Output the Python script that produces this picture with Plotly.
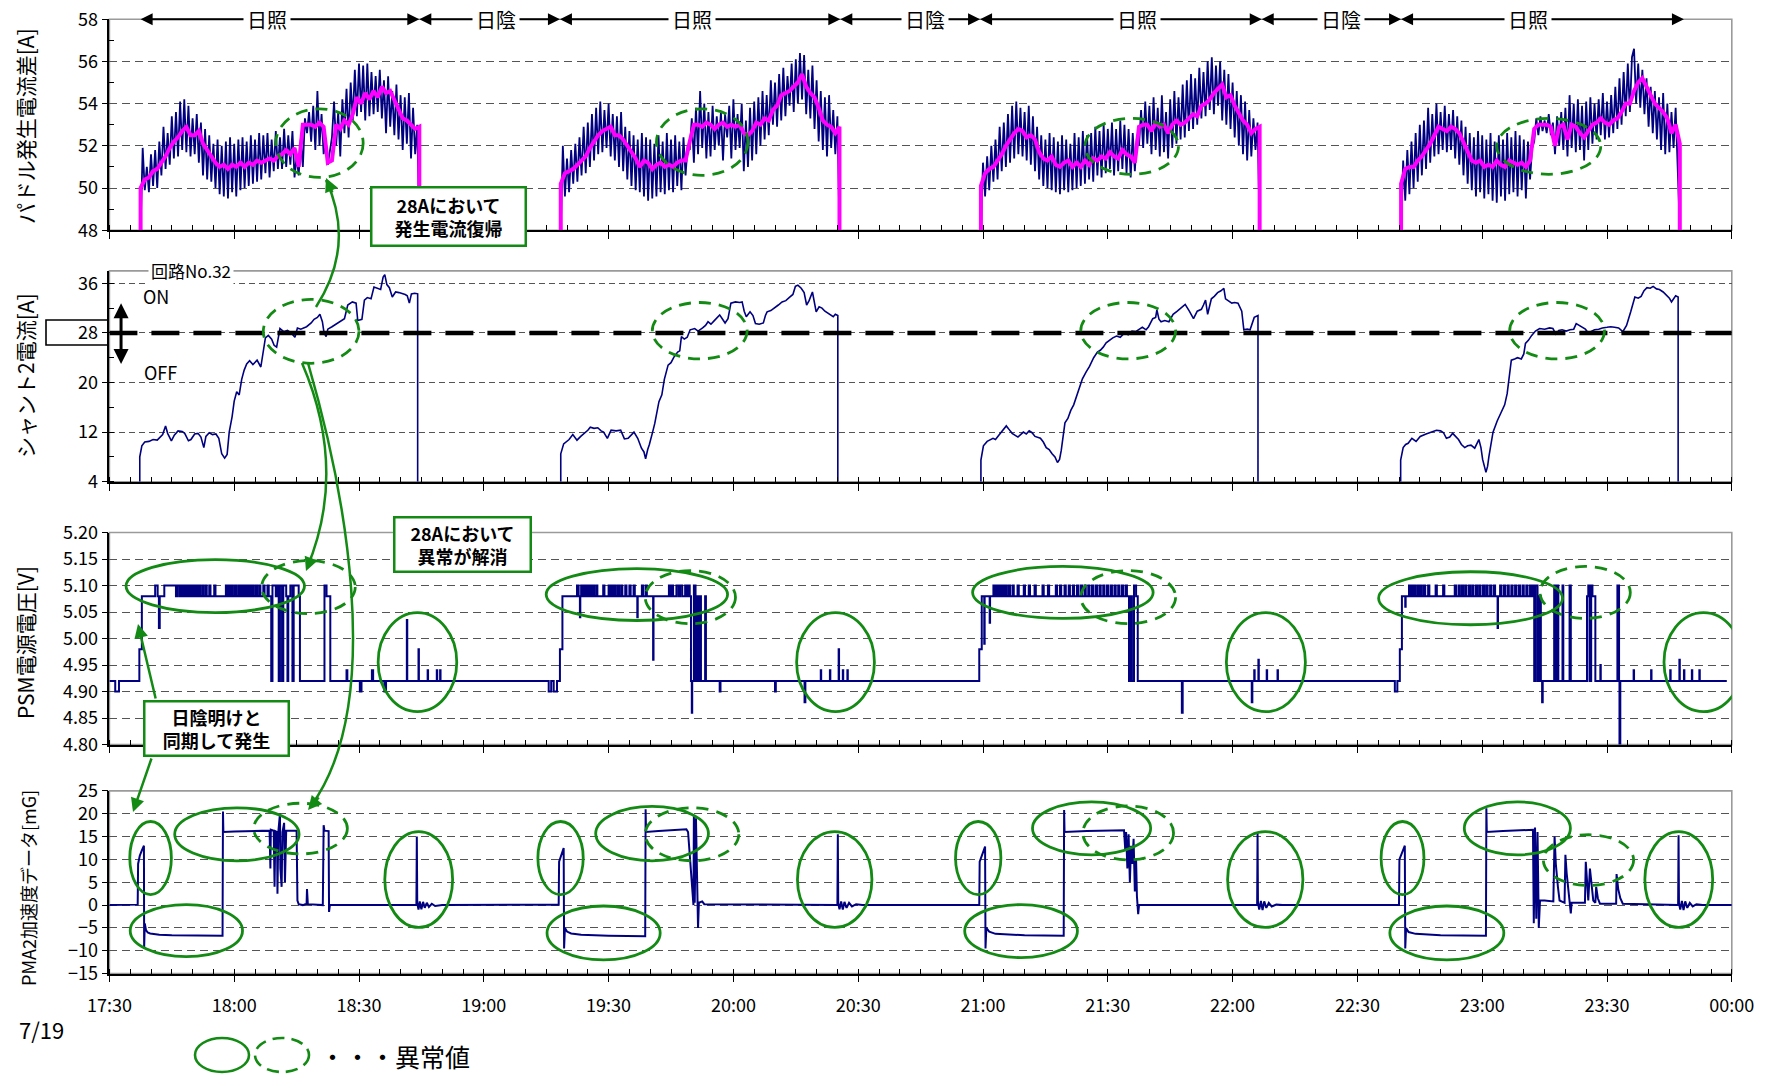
import plotly.graph_objects as go

W, H = 1769, 1074
FONT = "Noto Sans CJK JP"
NAVY = "#000080"
MAGENTA = "#ff00ff"
GREEN = "#138a13"

# ---------------- data ----------------
TICK_MIN = [0, 30, 60, 90, 120, 150, 180, 210, 240, 270, 300, 330, 360, 390]
TICK_LABELS = ["17:30", "18:00", "18:30", "19:00", "19:30", "20:00", "20:30",
               "21:00", "21:30", "22:00", "22:30", "23:00", "23:30", "00:00"]
DATE_LABEL = "7/19"

# paddle current difference: raw (0.5 min sampling) and averaged (1 min sampling)
PADDLE_T0 = [7.5, 108.5, 209.5, 310.5]
RAW_STEP = 0.5
AVG_STEP = 1.0

PADDLE_RAW_1 = [48.0, 51.9, 49.9, 51.0, 49.8, 51.6, 50.1, 51.8, 50.0, 52.2, 50.6, 52.9, 50.9, 52.6, 51.1, 53.4,
                51.4, 53.6, 51.5, 54.1, 51.8, 54.2, 51.7, 53.9, 51.5, 53.3, 51.6, 53.5, 51.2, 53.1, 50.6, 52.8,
                50.4, 52.5, 50.3, 52.1, 50.0, 52.3, 49.7, 52.0, 49.6, 52.2, 49.5, 52.4, 49.8, 52.1, 49.6, 52.3,
                49.9, 52.4, 50.0, 52.2, 50.1, 52.5, 50.2, 52.3, 50.3, 52.6, 50.4, 52.5, 50.7, 52.6, 50.5, 52.3,
                50.8, 52.7, 50.9, 52.4, 50.9, 52.8, 51.0, 52.5, 51.1, 52.7, 50.5, 51.5, 50.6, 52.3, 51.0, 53.3,
                52.6, 53.6, 52.2, 53.9, 51.8, 54.6, 52.0, 53.5, 51.6, 52.3, 51.1, 51.8, 52.4, 54.1, 52.0, 53.6,
                51.5, 54.2, 52.6, 54.7, 52.4, 55.0, 53.2, 55.6, 53.4, 55.9, 53.6, 55.8, 53.2, 55.9, 53.4, 55.5,
                53.5, 55.3, 53.6, 55.6, 53.3, 55.1, 52.6, 55.3, 52.9, 54.6, 52.5, 54.9, 52.3, 54.4, 51.8, 54.3,
                52.1, 54.5, 51.4, 53.8, 51.6, 53.0, 48.0]
PADDLE_RAW_2 = [48.0, 52.0, 49.6, 51.4, 49.8, 51.8, 50.2, 52.1, 50.3, 52.4, 50.6, 52.9, 50.7, 53.1, 51.0, 53.5,
                51.3, 53.8, 51.6, 54.1, 51.7, 53.7, 51.9, 54.0, 51.5, 53.5, 51.3, 53.4, 51.0, 53.6, 50.8, 52.9,
                50.4, 52.7, 50.1, 52.5, 49.9, 52.3, 49.8, 52.6, 49.6, 52.4, 49.4, 52.3, 49.5, 52.1, 49.6, 52.5,
                49.8, 52.2, 49.7, 52.6, 49.9, 52.3, 49.8, 52.5, 50.1, 52.2, 49.9, 52.4, 50.6, 52.0, 51.8, 53.3,
                51.2, 53.8, 51.6, 54.6, 51.9, 54.0, 51.4, 53.6, 51.5, 53.9, 51.8, 53.4, 52.0, 53.6, 51.3, 53.5,
                52.4, 53.9, 51.4, 54.2, 51.8, 53.5, 51.9, 54.0, 50.8, 53.2, 51.0, 53.8, 51.3, 54.1, 51.6, 54.3,
                52.0, 54.6, 52.3, 54.4, 52.5, 55.1, 53.0, 55.0, 52.9, 55.4, 53.2, 55.7, 53.4, 55.3, 53.9, 55.9,
                53.6, 56.1, 54.0, 56.4, 54.2, 56.3, 53.5, 55.6, 53.3, 55.8, 52.8, 55.1, 52.2, 54.6, 51.8, 54.3,
                51.5, 54.4, 51.9, 53.7, 51.6, 53.4, 48.0]
PADDLE_RAW_3 = [48.0, 51.2, 49.6, 51.5, 49.9, 52.0, 50.3, 52.3, 50.4, 52.9, 50.8, 53.1, 51.0, 53.5, 51.2, 53.9,
                51.4, 54.1, 51.6, 53.8, 51.5, 53.6, 51.3, 53.9, 51.1, 53.4, 50.8, 52.9, 50.4, 52.5, 50.1, 52.3,
                50.0, 52.6, 49.9, 52.4, 49.8, 52.2, 49.7, 52.5, 49.9, 52.3, 49.8, 52.1, 49.9, 52.6, 50.0, 52.4,
                50.1, 52.7, 50.2, 52.5, 50.4, 52.6, 50.3, 52.9, 50.6, 52.7, 50.5, 53.0, 50.7, 52.8, 50.9, 53.1,
                50.6, 52.8, 50.8, 53.2, 50.9, 53.0, 50.7, 52.8, 50.5, 52.6, 50.8, 52.4, 52.0, 53.7, 51.9, 54.1,
                52.1, 53.9, 51.6, 54.3, 51.8, 53.8, 51.5, 54.4, 51.7, 53.6, 51.4, 54.2, 51.9, 54.6, 52.1, 54.3,
                52.3, 54.9, 52.4, 55.1, 52.7, 55.4, 52.8, 55.2, 53.0, 55.7, 53.3, 55.5, 53.4, 56.0, 53.7, 56.2,
                53.5, 55.8, 53.9, 56.0, 53.2, 55.6, 53.0, 55.4, 52.8, 55.0, 52.4, 54.6, 52.0, 54.4, 51.6, 54.1,
                51.3, 53.7, 51.5, 53.3, 51.8, 53.1, 48.0]
PADDLE_RAW_4 = [48.0, 51.3, 49.4, 51.8, 49.7, 52.2, 50.0, 52.6, 50.3, 53.0, 50.6, 53.2, 50.9, 53.8, 51.2, 53.5,
                51.5, 54.0, 51.6, 53.6, 51.8, 53.9, 51.7, 53.5, 51.8, 53.7, 51.4, 53.4, 51.1, 53.2, 50.6, 52.9,
                50.2, 52.6, 49.9, 52.4, 49.6, 52.7, 49.8, 52.5, 49.5, 52.3, 49.7, 52.6, 49.4, 52.2, 49.3, 52.5,
                49.6, 52.3, 49.4, 52.6, 49.7, 52.4, 49.8, 52.7, 49.6, 52.5, 49.9, 52.3, 49.5, 52.2, 50.4, 51.9,
                52.2, 53.3, 52.5, 53.4, 52.7, 53.2, 52.6, 53.5, 52.5, 53.1, 51.6, 53.4, 52.0, 53.6, 51.8, 53.8,
                51.5, 54.4, 51.9, 54.0, 51.7, 54.2, 51.8, 53.9, 51.3, 54.1, 51.8, 54.3, 52.1, 54.0, 52.3, 54.2,
                52.5, 54.5, 52.3, 54.1, 52.4, 54.4, 52.6, 54.8, 52.8, 55.2, 53.0, 55.5, 53.4, 55.9, 53.6, 56.2,
                56.6, 54.0, 55.9, 53.8, 55.6, 53.5, 55.2, 52.9, 54.8, 52.6, 54.6, 52.3, 54.3, 51.8, 54.5, 51.6,
                54.0, 51.7, 53.6, 51.9, 53.8, 51.2, 48.0]

PADDLE_AVG_1 = [48, 50.0, 50.4, 50.5, 50.8, 50.9, 51.2, 51.5, 51.9, 52.2, 52.4, 52.7, 52.9, 52.5, 52.5, 52.7, 52.1,
                51.8, 51.5, 51.2, 51.0, 51.1, 50.9, 51.1, 51.0, 51.2, 51.0, 51.2, 51.1, 51.3, 51.2, 51.3, 51.4,
                51.3, 51.5, 51.6, 51.8, 51.6, 51.9, 51.0, 53.0, 53.0, 53.0, 52.9, 53.1, 52.9, 51.2, 51.3, 53.0,
                52.8, 53.2, 53.0, 53.5, 54.3, 54.0, 54.5, 54.2, 54.6, 54.3, 54.8, 54.5, 54.6, 54.2, 53.8, 53.3,
                53.2, 53.0, 52.8, 52.9, 48]
PADDLE_AVG_2 = [48, 50.2, 50.7, 50.8, 50.9, 51.1, 51.3, 51.5, 51.9, 52.2, 52.5, 52.7, 52.8, 52.9, 52.5, 52.5, 52.3,
                52.0, 51.7, 51.4, 51.0, 51.3, 51.2, 50.9, 51.1, 51.2, 51.0, 51.1, 51.0, 51.2, 51.3, 51.3, 52.2,
                53.0, 53.0, 52.9, 53.1, 53.0, 52.8, 53.0, 53.1, 52.9, 53.0, 52.9, 53.0, 52.6, 52.5, 52.7, 53.1,
                53.0, 53.3, 53.2, 53.7, 53.9, 54.4, 54.5, 54.6, 54.8, 55.0, 55.4, 54.8, 54.5, 54.3, 53.8, 53.2,
                53.0, 52.9, 52.6, 52.9, 48]
PADDLE_AVG_3 = [48, 50.1, 50.7, 50.9, 51.0, 51.3, 51.6, 52.0, 52.3, 52.6, 52.8, 52.7, 52.4, 52.5, 52.3, 51.7, 51.4,
                51.3, 51.5, 51.1, 51.0, 51.2, 51.3, 51.0, 51.2, 51.0, 51.3, 51.1, 51.4, 51.3, 51.5, 51.4, 51.7,
                51.5, 51.4, 51.8, 51.6, 51.5, 51.2, 52.9, 53.0, 53.0, 52.7, 53.1, 52.9, 53.0, 52.6, 53.0, 53.2,
                53.0, 53.1, 53.3, 53.5, 53.4, 53.9, 54.0, 54.2, 54.5, 54.7, 54.9, 54.3, 54.4, 53.9, 53.5, 53.2,
                53.0, 52.6, 52.8, 52.9, 48]
PADDLE_AVG_4 = [48, 50.2, 50.9, 51.0, 51.0, 51.3, 51.5, 51.8, 52.1, 52.5, 52.9, 52.8, 52.7, 52.9, 52.8, 52.6, 52.2,
                51.8, 51.3, 51.2, 51.3, 51.0, 51.1, 51.0, 51.3, 51.1, 51.0, 51.3, 51.2, 51.1, 51.2, 51.0, 51.3,
                52.8, 53.0, 53.0, 53.0, 52.9, 52.0, 52.9, 53.0, 52.3, 53.0, 52.9, 52.6, 52.4, 52.7, 53.0, 53.1,
                53.3, 53.1, 53.0, 53.2, 53.3, 53.6, 54.0, 54.0, 54.6, 55.0, 55.2, 54.8, 54.4, 54.0, 53.8, 53.6,
                53.3, 52.6, 53.0, 52.1, 48]

# shunt 2 current (time [min after 17:30], value [A])
SHUNT_1 = [(7.3, 4), (7.3, 8.0), (7.8, 9.8), (8.5, 10.4), (9.5, 10.5), (10.5, 10.8), (11.5, 10.7), (12.3, 11.2),
           (12.8, 11.6), (13.5, 13.0), (14.0, 11.8), (14.9, 10.6), (15.6, 11.5), (16.5, 12.2), (17.5, 12.1),
           (18.1, 11.8), (19.0, 10.6), (19.6, 10.8), (20.5, 11.7), (21.3, 11.8), (22.0, 11.2), (22.7, 9.5),
           (23.2, 11.3), (24.0, 11.9), (24.8, 11.6), (25.6, 11.7), (26.3, 11.0), (27.0, 8.5), (27.7, 7.8),
           (28.3, 8.4), (28.8, 12.0), (29.5, 14.5), (30.0, 17.0), (30.6, 18.5), (31.2, 18.0), (31.8, 20.5),
           (32.4, 22.0), (33.0, 23.0), (33.7, 23.5), (34.5, 22.9), (35.5, 23.6), (36.4, 22.5), (37.0, 25.5),
           (37.5, 27.2), (38.2, 27.6), (39.0, 27.0), (39.6, 26.0), (40.2, 25.7), (41.0, 28.7), (41.9, 28.2),
           (42.8, 28.4), (43.7, 28.0), (44.6, 27.3), (45.2, 28.8), (46.0, 28.6), (47.4, 29.0), (48.5, 29.6),
           (49.2, 30.2), (50.0, 30.5), (50.6, 31.0), (51.2, 29.8), (51.6, 28.0), (52.1, 27.4), (52.5, 28.6),
           (53.5, 29.0), (54.7, 29.5), (55.8, 30.0), (56.5, 30.3), (57.3, 32.5), (58.4, 33.0), (59.3, 32.8),
           (59.7, 30.0), (60.7, 30.2), (61.3, 33.3), (62.0, 33.7), (62.9, 33.5), (63.6, 35.4), (64.4, 35.2),
           (65.2, 35.0), (65.8, 37.0), (66.2, 37.4), (66.7, 35.8), (67.3, 35.3), (68.0, 33.8), (68.8, 34.6),
           (69.6, 34.5), (70.3, 34.4), (71.1, 34.2), (71.6, 34.0), (72.1, 32.8), (72.6, 34.3), (73.4, 34.4),
           (74.1, 34.3), (74.1, 4)]
SHUNT_2 = [(108.5, 4), (108.5, 8.5), (109.2, 10.1), (110.0, 10.5), (110.5, 10.8), (111.4, 11.6), (112.4, 10.7),
           (113.3, 11.3), (114.2, 11.8), (115.0, 12.3), (115.6, 12.8), (116.5, 12.6), (117.4, 12.7),
           (118.2, 12.2), (118.8, 12.0), (119.7, 11.0), (120.6, 12.3), (121.8, 12.2), (122.9, 12.3),
           (123.8, 10.9), (124.7, 11.0), (125.4, 11.5), (126.1, 12.0), (127.0, 11.0), (127.9, 9.4), (128.5, 8.8),
           (128.9, 7.7), (129.4, 9.2), (129.8, 10.0), (130.5, 11.8), (131.1, 13.4), (132.1, 16.9), (132.8, 18.0),
           (133.4, 20.5), (134.3, 22.8), (135.0, 23.2), (135.7, 24.1), (136.6, 24.9), (137.1, 25.1),
           (137.5, 27.4), (138.2, 27.0), (138.9, 27.3), (139.6, 28.5), (140.7, 28.7), (141.5, 28.3),
           (142.6, 28.8), (143.3, 29.2), (143.9, 29.8), (144.6, 29.4), (145.3, 29.9), (146.0, 30.4),
           (146.7, 30.9), (147.4, 30.2), (148.0, 29.6), (148.7, 30.3), (149.4, 32.8), (150.5, 33.0),
           (151.5, 32.9), (152.1, 33.0), (152.6, 31.5), (153.1, 30.6), (154.0, 31.4), (154.7, 30.8),
           (155.3, 29.5), (156.2, 29.4), (157.2, 29.6), (157.7, 30.8), (158.1, 31.4), (159.0, 31.6),
           (159.9, 32.0), (160.8, 32.5), (161.7, 33.0), (162.6, 33.2), (163.6, 33.8), (164.3, 34.2),
           (164.9, 35.5), (165.5, 35.7), (166.3, 35.2), (167.0, 34.5), (167.6, 32.5), (168.2, 33.2),
           (169.0, 34.6), (169.5, 33.0), (169.9, 31.4), (170.6, 32.2), (171.3, 32.0), (172.0, 31.5),
           (172.7, 31.2), (173.4, 30.8), (174.0, 30.6), (174.5, 31.0), (174.9, 30.8), (175.1, 30.8), (175.1, 4)]
SHUNT_3 = [(209.5, 4), (209.5, 7.5), (210.1, 9.8), (211.0, 10.5), (212.4, 11.0), (213.0, 10.8), (213.8, 11.5),
           (214.7, 12.2), (215.6, 13.0), (216.3, 12.4), (217.0, 11.8), (218.4, 11.2), (219.7, 12.0),
           (220.4, 11.7), (221.1, 12.2), (221.8, 11.9), (222.5, 11.3), (223.8, 11.0), (224.5, 10.4),
           (225.2, 9.5), (225.9, 9.2), (226.6, 8.5), (227.3, 8.0), (227.9, 7.1), (228.4, 7.6), (228.8, 9.0),
           (229.7, 13.5), (230.4, 14.2), (231.1, 15.5), (231.8, 16.4), (232.5, 17.7), (233.2, 19.0),
           (233.9, 20.6), (234.8, 21.7), (235.6, 22.6), (236.6, 24.0), (237.5, 24.9), (238.2, 25.2),
           (238.9, 25.7), (239.6, 26.4), (240.3, 26.8), (241.2, 27.2), (242.1, 27.5), (243.0, 27.3),
           (244.0, 28.0), (244.9, 27.7), (245.8, 28.3), (246.7, 28.2), (247.6, 28.6), (248.3, 28.9),
           (249.2, 28.5), (249.8, 29.0), (250.8, 30.3), (251.5, 30.5), (251.8, 31.7), (252.3, 30.2),
           (252.8, 29.8), (253.7, 30.0), (254.7, 29.8), (255.2, 30.4), (255.7, 31.0), (256.7, 31.5),
           (257.6, 32.0), (258.6, 32.6), (259.6, 31.5), (260.6, 30.3), (261.5, 31.5), (262.5, 31.8),
           (263.0, 32.5), (263.5, 33.3), (264.0, 31.0), (264.9, 33.5), (265.6, 33.9), (266.4, 34.5),
           (267.2, 34.8), (267.9, 35.2), (268.3, 33.5), (269.0, 33.2), (269.8, 32.8), (270.5, 32.9),
           (271.3, 32.8), (272.2, 31.5), (272.7, 28.5), (273.5, 28.6), (274.2, 28.5), (275.2, 30.5),
           (275.9, 30.8), (276.1, 30.8), (276.1, 4)]
SHUNT_4 = [(310.4, 4), (310.4, 7.5), (311.0, 9.5), (311.6, 10.0), (312.2, 10.2), (313.1, 11.0), (314.1, 10.5),
           (315.1, 11.3), (316.5, 11.7), (317.3, 11.9), (318.0, 12.0), (319.0, 12.3), (320.0, 12.2),
           (320.7, 11.9), (321.4, 11.0), (322.2, 11.2), (322.9, 11.8), (323.6, 11.3), (324.3, 10.8),
           (325.0, 10.0), (325.8, 9.5), (326.5, 9.8), (327.3, 9.9), (328.2, 9.4), (328.7, 10.0), (329.2, 10.8),
           (329.7, 9.5), (330.1, 7.6), (330.9, 5.5), (331.3, 6.5), (331.6, 8.0), (332.1, 10.0), (332.6, 12.0),
           (333.6, 13.8), (334.8, 15.5), (335.4, 16.4), (336.0, 18.2), (336.5, 20.5), (337.0, 23.6),
           (337.8, 23.8), (338.5, 24.0), (339.4, 23.8), (340.0, 24.6), (340.4, 26.3), (341.1, 26.8),
           (341.9, 27.6), (342.8, 28.3), (343.8, 28.7), (345.0, 28.6), (346.2, 28.8), (347.0, 28.7),
           (347.7, 27.8), (348.4, 28.4), (349.2, 28.5), (350.2, 28.3), (351.1, 28.5), (352.0, 28.6),
           (352.6, 29.5), (353.3, 29.2), (354.1, 29.0), (354.8, 28.6), (355.5, 28.0), (356.2, 28.3),
           (357.0, 28.5), (358.0, 28.6), (358.9, 28.8), (360.0, 28.9), (360.9, 29.0), (361.8, 28.9),
           (362.8, 28.8), (363.8, 28.2), (364.7, 29.2), (365.7, 31.4), (366.7, 33.8), (367.5, 33.6),
           (368.2, 33.9), (368.9, 34.8), (369.6, 35.3), (370.4, 35.2), (371.1, 35.5), (371.9, 35.1),
           (372.6, 35.0), (373.5, 34.6), (374.5, 34.0), (375.0, 33.6), (375.5, 33.0), (376.0, 33.6),
           (376.5, 34.0), (377.1, 33.8), (377.1, 4)]

# PSM supply voltage, step changes (time, level [V])
PSM_1 = [(0, 4.92), (1.4, 4.90), (2.3, 4.92), (7.2, 4.98), (7.8, 5.08), (11.0, 5.10), (11.6, 5.08), (11.9, 5.02),
         (12.1, 5.08), (13.2, 5.10), (16.0, 5.08), (16.3, 5.10), (16.8, 5.08), (17.2, 5.10), (17.5, 5.08),
         (17.9, 5.10), (18.3, 5.08), (18.6, 5.10), (19.0, 5.08), (19.3, 5.10), (19.6, 5.08), (19.9, 5.10),
         (20.1, 5.08), (20.4, 5.10), (20.7, 5.08), (21.0, 5.10), (21.2, 5.08), (21.5, 5.10), (21.8, 5.08),
         (22.3, 5.10), (22.6, 5.08), (23.1, 5.10), (23.4, 5.08), (24.0, 5.10), (24.3, 5.08), (25.2, 5.10),
         (25.5, 5.08), (28.0, 5.10), (28.3, 5.08), (28.7, 5.10), (29.0, 5.08), (29.4, 5.10), (29.7, 5.08),
         (30.2, 5.10), (30.5, 5.08), (31.0, 5.10), (31.3, 5.08), (31.7, 5.10), (32.0, 5.08), (32.4, 5.10),
         (32.6, 5.08), (33.0, 5.10), (33.3, 5.08), (33.7, 5.10), (34.0, 5.08), (34.4, 5.10), (34.7, 5.08),
         (35.2, 5.10), (35.5, 5.08), (36.0, 5.10), (36.3, 5.08), (37.0, 5.10), (37.3, 5.08), (38.0, 5.10),
         (38.3, 5.08), (38.9, 4.92), (39.2, 5.10), (40.0, 5.08), (40.4, 5.10), (40.7, 4.92), (41.0, 5.10),
         (41.5, 4.92), (41.8, 5.10), (42.5, 5.08), (42.8, 4.92), (43.0, 5.08), (43.5, 5.10), (44.0, 4.92),
         (44.3, 5.10), (45.5, 5.08), (45.8, 4.92), (51.7, 5.10), (52.2, 5.08), (53.1, 4.92), (57.0, 4.94),
         (57.2, 4.92), (60.2, 4.90), (60.6, 4.92), (63.1, 4.94), (63.4, 4.92), (66.1, 4.90), (66.5, 4.92),
         (71.5, 5.035), (71.6, 4.92), (74.3, 4.98), (74.4, 4.92), (76.5, 4.94), (76.6, 4.92), (78.7, 4.94),
         (78.8, 4.92), (79.5, 4.94), (79.6, 4.92)]
PSM_2 = [(105.6, 4.90), (106.2, 4.92), (106.8, 4.90), (107.6, 4.92), (108.3, 4.98), (108.9, 5.08), (112.4, 5.10),
         (112.8, 5.08), (113.1, 5.04), (113.2, 5.08), (113.4, 5.10), (113.8, 5.08), (114.1, 5.10), (114.5, 5.08),
         (114.8, 5.10), (115.1, 5.08), (115.4, 5.10), (115.8, 5.08), (116.1, 5.10), (116.5, 5.08), (117.0, 5.10),
         (117.3, 5.08), (118.7, 5.10), (119.0, 5.08), (120.0, 5.10), (120.3, 5.08), (120.7, 5.10), (121.0, 5.08),
         (121.4, 5.10), (121.7, 5.08), (122.2, 5.10), (122.5, 5.08), (123.0, 5.10), (123.3, 5.08), (124.0, 5.10),
         (124.3, 5.08), (125.0, 5.10), (125.3, 5.08), (126.0, 5.10), (126.3, 5.08), (126.9, 5.04), (127.0, 5.08),
         (128.0, 5.10), (128.3, 5.08), (128.9, 5.10), (129.2, 5.08), (130.7, 4.96), (130.8, 5.08), (134.5, 5.10),
         (134.8, 5.08), (135.2, 5.10), (135.5, 5.08), (136.3, 5.10), (136.8, 5.08), (137.2, 5.10), (137.7, 5.08),
         (138.4, 5.10), (138.8, 5.08), (139.2, 5.10), (139.5, 5.08), (139.8, 4.92), (140.0, 4.86), (140.1, 4.92),
         (140.5, 5.10), (140.9, 4.92), (141.2, 5.08), (141.5, 4.92), (141.9, 5.08), (142.2, 4.92), (143.2, 5.08),
         (143.4, 4.92), (146.7, 4.90), (146.9, 4.92), (160.0, 4.90), (160.2, 4.92), (167.1, 4.88), (167.3, 4.92),
         (171.0, 4.94), (171.1, 4.92), (173.2, 4.94), (173.3, 4.92), (175.3, 4.98), (175.4, 4.92), (176.3, 4.94),
         (176.4, 4.92), (177.4, 4.94), (177.5, 4.92)]
PSM_3 = [(209.1, 4.98), (209.7, 5.08), (210.3, 4.99), (210.4, 5.08), (211.6, 5.03), (211.7, 5.08), (212.5, 5.10),
         (212.8, 5.08), (213.2, 5.10), (213.5, 5.08), (213.9, 5.10), (214.3, 5.08), (214.6, 5.10), (215.0, 5.08),
         (215.4, 5.10), (215.7, 5.08), (216.2, 5.10), (216.5, 5.08), (217.1, 5.10), (217.4, 5.08), (218.3, 5.10),
         (218.6, 5.08), (219.8, 5.10), (220.1, 5.08), (221.0, 5.10), (221.3, 5.08), (222.4, 5.10), (222.7, 5.08),
         (224.3, 5.10), (224.6, 5.08), (225.6, 5.10), (225.9, 5.08), (227.5, 5.10), (227.8, 5.08), (228.5, 5.10),
         (228.8, 5.08), (229.6, 5.10), (229.9, 5.08), (230.6, 5.10), (230.9, 5.08), (231.6, 5.10), (231.9, 5.08),
         (232.6, 5.10), (232.9, 5.08), (233.5, 5.10), (233.8, 5.08), (234.4, 5.10), (234.7, 5.08), (235.3, 5.10),
         (235.6, 5.08), (236.2, 5.10), (236.5, 5.08), (237.1, 5.10), (237.4, 5.08), (238.0, 5.10), (238.3, 5.08),
         (238.9, 5.10), (239.2, 5.08), (239.8, 5.10), (240.1, 5.08), (240.7, 5.10), (241.0, 5.08), (241.6, 5.10),
         (241.9, 5.08), (242.5, 5.10), (242.8, 5.08), (243.4, 5.10), (243.7, 5.08), (244.3, 5.10), (244.6, 5.08),
         (245.1, 4.92), (245.5, 5.08), (245.8, 4.92), (246.3, 5.10), (246.8, 5.08), (247.2, 4.92), (257.8, 4.86),
         (258.0, 4.92), (274.6, 4.88), (274.75, 4.92), (275.2, 4.94), (275.3, 4.92), (276.2, 4.96), (276.3, 4.92),
         (278.2, 4.94), (278.3, 4.92), (280.8, 4.94), (280.9, 4.92)]
PSM_4 = [(309.0, 4.90), (309.6, 4.92), (310.2, 4.98), (310.7, 5.08), (311.5, 5.06), (311.6, 5.08), (312.4, 5.10),
         (312.7, 5.08), (313.0, 5.10), (313.3, 5.08), (313.7, 5.10), (314.0, 5.08), (314.5, 5.10), (314.8, 5.08),
         (315.2, 5.10), (315.5, 5.08), (316.0, 5.10), (316.3, 5.08), (317.0, 5.10), (317.3, 5.08), (318.8, 5.10),
         (319.1, 5.08), (320.6, 5.10), (320.9, 5.08), (323.4, 5.10), (323.7, 5.08), (324.3, 5.10), (324.6, 5.08),
         (325.1, 5.10), (325.4, 5.08), (325.9, 5.10), (326.2, 5.08), (326.8, 5.10), (327.1, 5.08), (327.6, 5.10),
         (327.9, 5.08), (328.5, 5.10), (328.8, 5.08), (329.3, 5.10), (329.6, 5.08), (330.2, 5.10), (330.5, 5.08),
         (331.0, 5.10), (331.3, 5.08), (331.9, 5.10), (332.2, 5.08), (332.8, 5.10), (333.1, 5.08), (333.7, 5.02),
         (333.8, 5.08), (334.3, 5.10), (334.6, 5.08), (335.2, 5.10), (335.5, 5.08), (336.1, 5.10), (336.4, 5.08),
         (337.0, 5.10), (337.3, 5.08), (337.9, 5.10), (338.2, 5.08), (338.8, 5.10), (339.1, 5.08), (339.7, 5.10),
         (340.0, 5.08), (340.6, 5.10), (340.9, 5.08), (341.5, 5.10), (341.8, 5.08), (342.2, 5.10), (342.5, 4.92),
         (342.8, 5.10), (343.3, 4.92), (343.7, 5.08), (344.1, 4.92), (344.4, 4.88), (344.55, 4.92), (347.3, 5.10),
         (347.6, 4.92), (348.0, 5.10), (348.3, 4.92), (349.3, 5.10), (349.5, 4.92), (351.0, 5.10), (351.3, 4.92),
         (355.2, 5.08), (355.5, 5.10), (355.8, 4.92), (356.2, 5.10), (356.5, 5.08), (357.2, 4.92), (358.4, 4.95),
         (358.5, 4.92), (362.5, 5.10), (362.9, 4.92), (363.0, 4.80), (363.2, 4.92), (366.4, 4.94), (366.5, 4.92),
         (370.6, 4.94), (370.7, 4.92), (375.2, 4.94), (375.3, 4.92), (377.4, 4.96), (377.5, 4.92), (378.5, 4.94),
         (378.6, 4.92), (380.4, 4.94), (380.5, 4.92), (382.2, 4.94), (382.3, 4.92), (388.8, 4.92)]

# PMA2 acceleration (time, value [mG])
PMA_1 = [(0, 0.0), (6.8, 0.1), (6.9, 9.0), (7.3, 10.8), (7.8, 12.0), (8.3, 13.0), (8.35, -9.5), (8.5, -4.0),
         (8.8, -5.5), (9.2, -6.0), (9.8, -6.2), (10.5, -6.3), (12, -6.5), (15, -6.6), (20, -6.7), (25, -6.8),
         (27.2, -6.7), (27.3, 20.5), (27.4, 16.0), (30, 16.1), (35, 16.2), (38.5, 16.3), (38.7, 8.0),
         (38.8, 16.5), (39.5, 16.3), (39.6, 13.0), (39.7, 4.0), (39.9, 16.2), (40.3, 16.0), (40.4, 2.5),
         (40.6, 16.0), (41.0, 20.0), (41.1, 8.0), (41.4, 4.0), (41.6, 16.0), (42.0, 18.0), (42.2, 5.0),
         (42.5, 16.3), (45.0, 16.3), (45.2, 1.0), (45.5, 0.2), (46.5, 0.0), (47.4, 0.3), (47.5, 3.5),
         (47.7, 0.2), (51.3, 0.0), (51.5, 17.5), (51.7, 16.3), (52.7, 16.2), (52.8, -1.5), (53.0, 0.0),
         (73.8, 0.0), (73.9, 15.0), (74.0, 0.5), (74.3, -1.0), (74.6, 0.8), (75.0, -0.9), (75.4, 0.7),
         (75.8, -0.6), (76.3, 0.5), (76.8, -0.4), (77.5, 0.3), (78.3, -0.2), (80, 0.0)]
PMA_2 = [(108.0, 0.1), (108.1, 9.5), (108.6, 11.0), (109.2, 12.5), (109.3, -9.5), (109.5, -5.0), (110.0, -5.8),
         (111, -6.2), (113.4, -6.5), (120, -6.7), (128.8, -6.8), (128.9, 21.0), (129.0, 16.0), (132, 16.2),
         (136, 16.4), (138.7, 16.6), (139.1, 16.0), (140.4, 0.0), (140.5, 19.5), (140.7, 0.5), (141.0, 19.0),
         (141.3, -0.3), (141.5, -5.0), (141.7, 0.5), (142.5, 0.8), (143, 0.2), (175.0, 0.0), (175.1, 15.5),
         (175.2, 0.4), (175.5, -0.9), (175.9, 0.8), (176.3, -1.0), (176.7, 0.7), (177.2, -0.6), (177.8, 0.5),
         (178.5, -0.3), (179.5, 0.2), (181, 0.0)]
PMA_3 = [(209.1, 0.0), (209.2, 9.5), (209.8, 11.2), (210.5, 12.8), (210.6, -9.5), (210.8, -5.0), (211.5, -5.8),
         (213, -6.3), (220, -6.6), (229.4, -6.7), (229.5, 20.8), (229.6, 16.0), (235, 16.2), (240, 16.3),
         (243.9, 16.4), (244.2, 12.0), (244.4, 16.0), (244.7, 8.0), (245.0, 15.5), (245.3, 5.0), (245.6, 13.0),
         (245.9, 9.0), (246.2, 14.5), (246.5, 3.0), (246.8, 10.0), (247.0, 2.0), (247.3, -2.0), (247.5, 0.0),
         (275.9, 0.0), (276.0, 15.8), (276.1, 0.5), (276.4, -1.0), (276.8, 0.9), (277.2, -1.1), (277.6, 0.8),
         (278.1, -0.6), (278.7, 0.5), (279.4, -0.3), (280.5, 0.1), (282, 0.0)]
PMA_4 = [(310.0, 0.0), (310.1, 10.0), (310.7, 11.5), (311.4, 13.0), (311.5, -9.5), (311.7, -5.0), (312.3, -5.9),
         (314, -6.3), (320, -6.6), (330.9, -6.7), (331.0, 21.2), (331.1, 16.0), (335, 16.2), (340, 16.4),
         (342.2, 16.5), (342.4, -4.0), (342.7, 17.0), (343.0, -3.0), (343.3, 16.0), (343.6, -5.0), (343.9, 1.0),
         (345.0, 1.0), (347.1, 0.8), (347.4, 15.0), (347.7, 9.0), (348.2, 4.0), (348.6, 1.0), (349.8, 0.5),
         (350.0, 11.0), (350.3, 7.0), (350.7, 3.0), (351.0, 0.5), (351.3, -1.8), (351.5, 0.5), (354.7, 0.5),
         (354.9, 9.5), (355.2, 4.0), (355.5, 1.0), (355.9, 8.0), (356.3, 4.0), (356.7, 1.0), (357.2, 0.5),
         (357.4, 4.0), (357.8, 1.5), (358.3, 0.3), (362.2, 0.3), (362.3, 6.8), (362.7, 3.5), (363.2, 1.5),
         (363.8, 0.3), (377.1, 0.0), (377.2, 15.3), (377.3, 0.4), (377.6, -1.0), (378.0, 0.9), (378.4, -1.1),
         (378.8, 0.8), (379.3, -0.6), (379.9, 0.5), (380.6, -0.3), (381.5, 0.2), (383, 0.0), (390, 0.0)]

# sunlight / eclipse periods at the top
PHASE_BOUNDS = [7.5, 74.5, 108.3, 175.7, 209.3, 277.0, 310.5, 378.5]
PHASE_LABEL_POS = [38, 93, 140, 196, 247, 296, 341]
PHASE_LABELS = ["日照", "日陰", "日照", "日陰", "日照", "日陰", "日照"]

# ---------------- layout geometry ----------------
X0, X1 = 109.4 / W, 1731.8 / W
PANELS = [  # (top px, bottom px)
    (19.2, 230.2), (270.9, 481.7), (532.5, 744.6), (790.9, 973.6)]


def pp(x, y):
    return x / W, 1 - y / H


fig = go.Figure()


def flatten(pairs_lists):
    xs, ys = [], []
    for pairs in pairs_lists:
        for t, v in pairs:
            xs.append(t)
            ys.append(v)
        xs.append(None)
        ys.append(None)
    return xs, ys


# panel 1 traces
rx, ry, ax_, ay_ = [], [], [], []
for t0, raw, avg in zip(PADDLE_T0, [PADDLE_RAW_1, PADDLE_RAW_2, PADDLE_RAW_3, PADDLE_RAW_4],
                        [PADDLE_AVG_1, PADDLE_AVG_2, PADDLE_AVG_3, PADDLE_AVG_4]):
    rx += [t0 + i * RAW_STEP for i in range(len(raw))] + [None]
    ry += raw + [None]
    n = len(avg) - 2
    ax_ += [t0] + [t0 + k * AVG_STEP for k in range(n)] + [t0 + (n - 1) * AVG_STEP, None]
    ay_ += avg + [None]
fig.add_trace(go.Scatter(x=rx, y=ry, mode="lines", line=dict(color=NAVY, width=1.8),
                         xaxis="x", yaxis="y", showlegend=False))
fig.add_trace(go.Scatter(x=ax_, y=ay_, mode="lines", line=dict(color=MAGENTA, width=4),
                         xaxis="x", yaxis="y", showlegend=False))

sx, sy = flatten([SHUNT_1, SHUNT_2, SHUNT_3, SHUNT_4])
fig.add_trace(go.Scatter(x=sx, y=sy, mode="lines", line=dict(color=NAVY, width=1.6),
                         xaxis="x2", yaxis="y2", showlegend=False))

px_, py_ = [], []
for pairs in [PSM_1, PSM_2, PSM_3, PSM_4]:
    for t, v in pairs:
        px_.append(t)
        py_.append(v)
fig.add_trace(go.Scatter(x=px_, y=py_, mode="lines", line=dict(color=NAVY, width=2, shape="hv"),
                         xaxis="x3", yaxis="y3", showlegend=False))

mx, my = [], []
for pairs in [PMA_1, PMA_2, PMA_3, PMA_4]:
    for t, v in pairs:
        mx.append(t)
        my.append(v)
fig.add_trace(go.Scatter(x=mx, y=my, mode="lines", line=dict(color=NAVY, width=2),
                         xaxis="x4", yaxis="y4", showlegend=False))

# ---------------- axes ----------------
tickfont = dict(family=FONT, size=18, color="black")
layout_axes = {}
for i, (top, bot) in enumerate(PANELS, start=1):
    sfx = "" if i == 1 else str(i)
    layout_axes["xaxis" + sfx] = dict(
        domain=[X0, X1], range=[0, 390], anchor="y" + sfx, automargin=False,
        tickmode="array", tickvals=TICK_MIN, ticktext=TICK_LABELS,
        showticklabels=(i == 4), ticks="outside", ticklen=7, tickwidth=1.3, tickcolor="black",
        minor=dict(tick0=0, dtick=5, ticks="inside", ticklen=5, tickwidth=1, tickcolor="black"),
        showline=True, linecolor="black", linewidth=1.6, showgrid=False, zeroline=False,
        tickfont=tickfont, ticklabelstandoff=8)
    layout_axes["yaxis" + sfx] = dict(
        domain=[1 - bot / H, 1 - top / H], anchor="x" + sfx, automargin=False,
        showline=True, linecolor="black", linewidth=1.6, zeroline=False,
        ticks="outside", ticklen=6, tickwidth=1.3, tickcolor="black", tickfont=tickfont,
        showgrid=True, gridcolor="#555555", gridwidth=1, griddash="8px,5px")

layout_axes["yaxis"].update(range=[48, 58], tickmode="array", tickvals=[48, 50, 52, 54, 56, 58],
                            minor=dict(tick0=49, dtick=2, ticks="inside", ticklen=5, tickcolor="black",
                                       showgrid=False))
layout_axes["yaxis2"].update(range=[4, 38], tickmode="array", tickvals=[4, 12, 20, 28, 36],
                             griddash="6px,4px",
                             minor=dict(tick0=0, dtick=4, ticks="inside", ticklen=5, tickcolor="black",
                                        showgrid=False))
layout_axes["yaxis3"].update(range=[4.80, 5.20], tickmode="linear", tick0=4.80, dtick=0.05,
                             tickformat=".2f")
layout_axes["yaxis4"].update(range=[-15, 25], tickmode="linear", tick0=-15, dtick=5)

shapes = []
annotations = []

# gray frames
for top, bot in PANELS:
    x0, y0 = pp(109.4, bot)
    x1, y1 = pp(1731.8, top)
    shapes.append(dict(type="rect", xref="paper", yref="paper", x0=x0, x1=x1, y0=y0, y1=y1,
                       line=dict(color="#9a9a9a", width=1.6), layer="below"))

# threshold line 28 A
shapes.append(dict(type="line", xref="x2", yref="y2", x0=0, x1=390, y0=28, y1=28,
                   line=dict(color="black", width=4.5, dash="28px,14px")))
# box around the 28 tick label
bx0, by0 = pp(46, 345)
bx1, by1 = pp(108, 320)
shapes.append(dict(type="rect", xref="paper", yref="paper", x0=bx0, x1=bx1, y0=by0, y1=by1,
                   line=dict(color="black", width=1.6)))

# ellipses: (panel, t0, t1, v0, v1, dashed)
ELLIPSES = [
    (1, 40, 61, 50.5, 53.75, True), (1, 131.5, 153.5, 50.6, 53.75, True),
    (1, 234.5, 257, 50.65, 53.3, True), (1, 333.5, 358.5, 50.65, 53.3, True),
    (2, 37, 60, 23.1, 33.4, True), (2, 130.5, 153.3, 23.8, 32.9, True),
    (2, 233.5, 256.3, 23.8, 32.9, True), (2, 336.6, 359.4, 23.8, 32.9, True),
    (3, 4.0, 46.9, 5.049, 5.149, False), (3, 36.6, 59.1, 5.047, 5.147, True),
    (3, 64.6, 83.5, 4.862, 5.049, False),
    (3, 105.0, 148.6, 5.034, 5.132, False), (3, 128.8, 150.5, 5.028, 5.128, True),
    (3, 165.2, 183.9, 4.862, 5.049, False),
    (3, 207.5, 250.9, 5.038, 5.136, False), (3, 233.5, 256.3, 5.028, 5.128, True),
    (3, 268.5, 287.5, 4.862, 5.049, False),
    (3, 305.1, 349.3, 5.026, 5.126, False), (3, 343.9, 365.6, 5.038, 5.136, True),
    (3, 373.7, 392.7, 4.862, 5.049, False),
    (4, 4.9, 14.9, 2.3, 18.3, False), (4, 5.0, 32.0, -11.3, 0.1, False),
    (4, 15.7, 45.6, 9.7, 21.3, False), (4, 34.7, 57.2, 11.2, 22.3, True),
    (4, 66.2, 82.5, -4.9, 16.1, False),
    (4, 103.0, 113.9, 2.3, 18.3, False), (4, 105.2, 132.4, -12.0, -0.2, False),
    (4, 116.9, 144.0, 9.7, 21.6, False), (4, 128.8, 151.3, 9.7, 21.3, True),
    (4, 165.4, 183.3, -4.9, 16.1, False),
    (4, 203.4, 214.3, 2.3, 18.3, False), (4, 205.6, 232.7, -11.5, 0.1, False),
    (4, 221.9, 250.3, 11.0, 22.6, False), (4, 234.0, 255.8, 9.9, 21.7, True),
    (4, 268.8, 286.9, -4.9, 16.1, False),
    (4, 305.7, 316.0, 2.3, 18.3, False), (4, 307.8, 335.2, -12.0, -0.2, False),
    (4, 325.7, 351.2, 11.0, 22.6, False), (4, 344.7, 366.4, 4.3, 15.4, True),
    (4, 369.1, 385.4, -4.9, 16.1, False),
]
for p, t0, t1, v0, v1, dashed in ELLIPSES:
    sfx = "" if p == 1 else str(p)
    shapes.append(dict(type="circle", xref="x" + sfx, yref="y" + sfx, x0=t0, x1=t1, y0=v0, y1=v1,
                       line=dict(color=GREEN, width=2.8, dash="12px,8px" if dashed else "solid")))

# green connector curves (pixel coords -> paper)
def path_q(p0, c, p1):
    a = pp(*p0); b = pp(*c); d = pp(*p1)
    return f"M {a[0]},{a[1]} Q {b[0]},{b[1]} {d[0]},{d[1]}"


def path_c(p0, c1, c2, p1):
    a = pp(*p0); b = pp(*c1); e = pp(*c2); d = pp(*p1)
    return f"M {a[0]},{a[1]} C {b[0]},{b[1]} {e[0]},{e[1]} {d[0]},{d[1]}"


CURVES = [
    (path_q((316, 307), (356, 245), (326, 180)), (326, 178), (7, 16)),
    (path_q((302, 363), (348, 470), (307, 568)), (306, 571), (6, -15)),
    (path_c((308, 363), (342, 480), (388, 700), (311, 806)), (308, 810), (12, -14)),
]
for path, tip, off in CURVES:
    shapes.append(dict(type="path", xref="paper", yref="paper", path=path,
                       line=dict(color=GREEN, width=2.5)))
    tx, ty = pp(*tip)
    annotations.append(dict(xref="paper", yref="paper", x=tx, y=ty, ax=off[0], ay=off[1], text="",
                            showarrow=True, arrowhead=2, arrowsize=1.1, arrowwidth=2.5,
                            arrowcolor=GREEN))
# straight green arrows from the third box
for tip, tail in [((138, 624), (156, 700)), ((133, 812), (152, 757))]:
    tx, ty = pp(*tip)
    annotations.append(dict(xref="paper", yref="paper", x=tx, y=ty, ax=tail[0] - tip[0],
                            ay=tail[1] - tip[1], text="", showarrow=True, arrowhead=2, arrowsize=1.1,
                            arrowwidth=2.5, arrowcolor=GREEN))

# sun / eclipse arrows on top
for k in range(len(PHASE_LABELS)):
    lo = PHASE_BOUNDS[k]
    hi = PHASE_BOUNDS[k + 1]
    mid = PHASE_LABEL_POS[k]
    for end in (lo, hi):
        annotations.append(dict(xref="x", yref="y", x=end, y=58, axref="x", ayref="y", ax=mid, ay=58,
                                text="", showarrow=True, arrowhead=2, arrowsize=1.2, arrowwidth=2,
                                arrowcolor="black"))
for k, lab in enumerate(PHASE_LABELS):
    annotations.append(dict(xref="x", yref="y", x=PHASE_LABEL_POS[k], y=58, text=lab, showarrow=False,
                            bgcolor="white", borderpad=3, xanchor="center", yanchor="middle",
                            font=dict(family=FONT, size=20, color="black")))

# panel 2 texts & arrow
annotations.append(dict(xref="x2", yref="y2", x=19.5, y=38, text="回路No.32", showarrow=False,
                        xanchor="center", yanchor="middle",
                        bgcolor="white", borderpad=2, font=dict(family=FONT, size=17, color="black")))
annotations.append(dict(xref="x2", yref="y2", x=11.2, y=33.9, text="ON", showarrow=False,
                        xanchor="center", yanchor="middle",
                        font=dict(family=FONT, size=18, color="black")))
annotations.append(dict(xref="x2", yref="y2", x=12.4, y=21.7, text="OFF", showarrow=False,
                        xanchor="center", yanchor="middle",
                        font=dict(family=FONT, size=18, color="black")))
for tipv in (32.8, 23.0):
    annotations.append(dict(xref="x2", yref="y2", x=2.8, y=tipv, axref="x2", ayref="y2", ax=2.8, ay=28,
                            text="", showarrow=True, arrowhead=2, arrowsize=1, arrowwidth=3,
                            arrowcolor="black"))

# green boxes
BOXES = [((448, 217), 152, 56, "28Aにおいて<br>発生電流復帰"),
         ((462, 544), 134, 52, "28Aにおいて<br>異常が解消"),
         ((216, 728), 142, 52, "日陰明けと<br>同期して発生")]
for (cx, cy), w, h, txt in BOXES:
    x, y = pp(cx, cy)
    annotations.append(dict(xref="paper", yref="paper", x=x, y=y, text="<b>" + txt + "</b>",
                            xanchor="center", yanchor="middle",
                            showarrow=False, width=w, height=h, bgcolor="white", bordercolor=GREEN,
                            borderwidth=2.5, borderpad=0, align="center",
                            font=dict(family=FONT, size=18, color="black")))

# y-axis titles
YTITLES = [("パドル発生電流差[A]", 126, 21, 25), ("シャント2電流[A]", 376, 21, 25),
           ("PSM電源電圧[V]", 643, 21, 25), ("PMA2加速度データ[mG]", 888, 18, 28)]
for txt, cy, fs, cx in YTITLES:
    x, y = pp(cx, cy)
    annotations.append(dict(xref="paper", yref="paper", x=x, y=y, text=txt, textangle=-90,
                            xanchor="center", yanchor="middle",
                            showarrow=False, font=dict(family=FONT, size=fs, color="black")))

# date label
x, y = pp(41, 1029)
annotations.append(dict(xref="paper", yref="paper", x=x, y=y, text=DATE_LABEL, showarrow=False,
                        xanchor="center", yanchor="middle",
                        font=dict(family=FONT, size=22, color="black")))

# legend at the bottom
for (cx, dash) in [(222, "solid"), (282, "12px,7px")]:
    a = pp(cx - 27, 1072)
    b = pp(cx + 27, 1038)
    shapes.append(dict(type="circle", xref="paper", yref="paper", x0=a[0], y0=a[1], x1=b[0], y1=b[1],
                       line=dict(color=GREEN, width=2.6, dash=dash)))
x, y = pp(318, 1056)
annotations.append(dict(xref="paper", yref="paper", x=x, y=y, text="・・・異常値", showarrow=False,
                        xanchor="left", yanchor="middle",
                        font=dict(family=FONT, size=25, color="black")))

fig.update_layout(
    width=W, height=H, margin=dict(l=0, r=0, t=0, b=0, autoexpand=False),
    paper_bgcolor="white", plot_bgcolor="white",
    showlegend=False, shapes=shapes, annotations=annotations,
    font=dict(family=FONT, color="black"),
    **layout_axes)

fig.write_html("out.html")
